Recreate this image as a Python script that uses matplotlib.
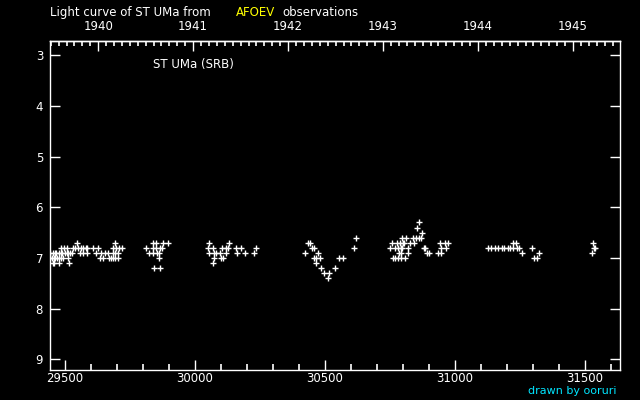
import matplotlib
matplotlib.use("Agg")
import matplotlib.pyplot as plt
from matplotlib.ticker import FixedLocator, MultipleLocator
import numpy as np

# Observation dates (JD - 2400000) grouped by estimated visual magnitude
jd_mag_6_3 = [30865]
jd_mag_6_4 = [30857]
jd_mag_6_5 = [30876]
jd_mag_6_6 = [30622, 30799, 30815, 30841, 30853, 30865, 30872]
jd_mag_6_7 = [29549, 29695, 29842, 29852, 29880, 29898, 30057, 30134,
              30438, 30445, 30761, 30780, 30791, 30802, 30807, 30830, 30845,
              30945, 30965, 30976, 31226, 31238, 31534]
jd_mag_6_8 = [29487, 29498, 29510, 29533, 29542, 29552, 29562, 29571, 29581,
              29587, 29608, 29630, 29687, 29698, 29710, 29721,
              29815, 29840, 29852, 29867, 29875, 30053, 30072, 30107, 30121,
              30130, 30161, 30180, 30238, 30453, 30461, 30615,
              30753, 30772, 30783, 30794, 30799, 30822, 30884, 30888, 30949, 30968,
              31129, 31139, 31157, 31169, 31181, 31192, 31204, 31215, 31226,
              31241, 31249, 31299, 31535, 31540]
jd_mag_6_9 = [29446, 29454, 29462, 29469, 29477, 29485, 29492, 29500, 29508,
              29515, 29523, 29529, 29560, 29573, 29587, 29621, 29640, 29654,
              29667, 29687, 29694, 29704,
              29826, 29842, 29857, 29865, 30057, 30076, 30084, 30099, 30122,
              30165, 30195, 30230, 30426, 30476,
              30788, 30794, 30822, 30896, 30902, 30938, 30949,
              31261, 31326, 31530]
jd_mag_7_0 = [29446, 29452, 29458, 29463, 29471, 29479, 29487, 29494, 29513,
              29637, 29648, 29671, 29679, 29687, 29694, 29704,
              29865, 30076, 30103, 30111, 30461, 30468, 30484, 30557, 30572,
              30765, 30773, 30783, 30795, 30811, 31307, 31318]
jd_mag_7_1 = [29455, 29461, 29480, 29518, 30072, 30468]
jd_mag_7_2 = [29845, 29868, 30488, 30541]
jd_mag_7_3 = [30499, 30518]
jd_mag_7_4 = [30515]

mag_levels = [6.3, 6.4, 6.5, 6.6, 6.7, 6.8, 6.9, 7.0, 7.1, 7.2, 7.3, 7.4]
jd_groups = [jd_mag_6_3, jd_mag_6_4, jd_mag_6_5, jd_mag_6_6, jd_mag_6_7,
             jd_mag_6_8, jd_mag_6_9, jd_mag_7_0, jd_mag_7_1, jd_mag_7_2,
             jd_mag_7_3, jd_mag_7_4]

x_ticks = [29500, 30000, 30500, 31000, 31500]
y_ticks = [3, 4, 5, 6, 7, 8, 9]
year_ticks = [1940, 1941, 1942, 1943, 1944, 1945]

jd_all = np.concatenate([np.asarray(g, float) for g in jd_groups])
mag_all = np.concatenate([np.full(len(g), m) for g, m in zip(jd_groups, mag_levels)])

fig = plt.figure(figsize=(6.4, 4.0), dpi=100, facecolor="black")
ax = fig.add_axes([50/640, 30/400, 570/640, 329/400], facecolor="black")

ax.plot(jd_all, mag_all, linestyle="none", marker="+", ms=4.0, mew=1.0,
        color="white")

ax.set_xlim(29444.2, 31636.5)
ax.set_ylim(9.21, 2.72)

for s in ax.spines.values():
    s.set_color("white")
    s.set_linewidth(1.0)

JD_1940 = 29629.5
def jd_to_year(jd):
    return 1940 + (np.asarray(jd, dtype=float) - JD_1940) / 365.25
def year_to_jd(y):
    return JD_1940 + (np.asarray(y, dtype=float) - 1940) * 365.25

sec = ax.secondary_xaxis("top", functions=(jd_to_year, year_to_jd))
sec.xaxis.set_major_locator(FixedLocator(year_ticks))
sec.xaxis.set_minor_locator(FixedLocator([1939 + i / 12 for i in range(12 * 8)]))
sec.tick_params(axis="x", which="major", direction="in", length=7, width=1.0,
                color="white", labelcolor="white", labelsize=8.5, pad=6)
sec.tick_params(axis="x", which="minor", direction="in", length=3.5, width=1.2,
                color="white")
sec.spines["top"].set_color("white")
sec.spines["top"].set_linewidth(1.0)

ax.xaxis.set_major_locator(FixedLocator(x_ticks))
ax.xaxis.set_minor_locator(MultipleLocator(100))
ax.yaxis.set_major_locator(FixedLocator(y_ticks))
ax.xaxis.set_ticks_position("bottom")
ax.tick_params(axis="x", which="both", bottom=True, top=False)
ax.tick_params(axis="x", which="major", direction="in", length=7.5, width=1.0,
               color="white", labelcolor="white", labelsize=8.5, pad=1.5)
ax.tick_params(axis="x", which="minor", direction="in", length=4, width=1.2,
               color="white")
ax.tick_params(axis="y", which="major", direction="in", length=7.5, width=1.0,
               color="white", labelcolor="white", labelsize=8.5, pad=5,
               left=True, right=True)

fig.text(50/640, 1 - 12.5/400, "Light curve of ST UMa from", color="white",
         fontsize=8.5, ha="left", va="center")
fig.text(236/640, 1 - 12.5/400, "AFOEV", color="#ffff00",
         fontsize=8.5, ha="left", va="center")
fig.text(282/640, 1 - 12.5/400, "observations", color="white",
         fontsize=8.5, ha="left", va="center")

ax.text(0.18, 0.93, "ST UMa (SRB)", transform=ax.transAxes, color="white",
        fontsize=8.5, ha="left", va="center")

fig.text(617/640, 1 - 391.5/400, "drawn by ooruri", color="#00e5ff",
         fontsize=8, ha="right", va="center")

fig.savefig("out.png", dpi=100, facecolor="black")
